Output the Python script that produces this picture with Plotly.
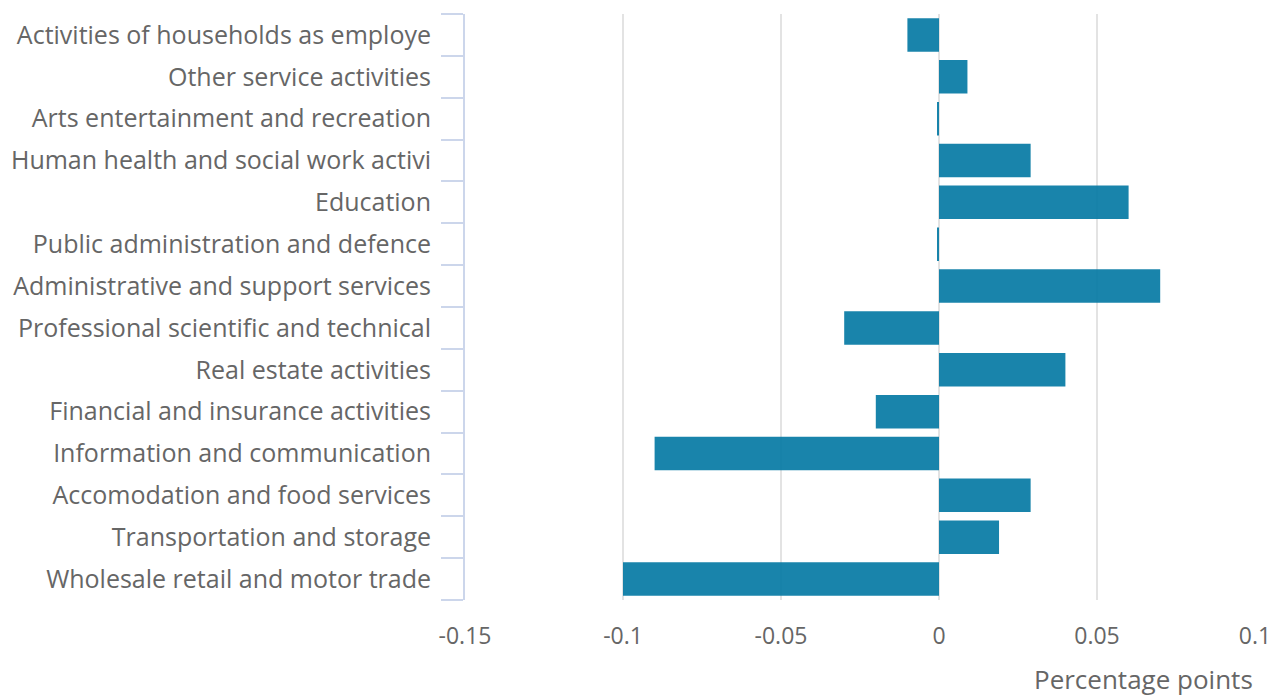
import plotly.graph_objects as go

categories = [
    "Wholesale retail and motor trade",
    "Transportation and storage",
    "Accomodation and food services",
    "Information and communication",
    "Financial and insurance activities",
    "Real estate activities",
    "Professional scientific and technical",
    "Administrative and support services",
    "Public administration and defence",
    "Education",
    "Human health and social work activi",
    "Arts entertainment and recreation",
    "Other service activities",
    "Activities of households as employe",
]
values = [-0.100, 0.019, 0.029, -0.090, -0.020, 0.040, -0.030, 0.070,
          -0.0005, 0.060, 0.029, -0.0005, 0.009, -0.010]
x_ticks = [-0.15, -0.1, -0.05, 0, 0.05, 0.1]
x_ticklabels = ["-0.15", "-0.1", "-0.05", "0", "0.05", "0.1"]

font_family = "Open Sans"
text_color = "#666666"

fig = go.Figure(go.Bar(
    x=values, y=categories, orientation="h",
    marker=dict(color="#0077a2", opacity=0.9, line=dict(width=0)),
))

fig.update_layout(
    width=1279, height=697,
    margin=dict(l=465, r=24, t=14, b=97),
    paper_bgcolor="white", plot_bgcolor="white",
    font=dict(family=font_family, size=24, color=text_color),
    bargap=0.2,
    showlegend=False,
    xaxis=dict(
        range=[-0.15, 0.1], tickvals=x_ticks, ticktext=x_ticklabels,
        showgrid=True, gridcolor="#e3e3e3", gridwidth=2,
        zeroline=True, zerolinecolor="#e3e3e3", zerolinewidth=2,
        showline=False, ticks="", ticklabelstandoff=20, automargin=False,
        tickfont=dict(size=23, color=text_color),
    ),
    yaxis=dict(
        type="category", showgrid=False, zeroline=False,
        showline=True, linecolor="#ccd6eb", linewidth=2,
        ticks="outside", tickson="boundaries", ticklen=22, tickwidth=2,
        tickcolor="#ccd6eb", ticklabelstandoff=27, automargin=False,
        tickfont=dict(size=25, color=text_color),
    ),
    annotations=[dict(
        text="Percentage points", xref="paper", yref="paper",
        x=1, y=-0.135, xanchor="right", yanchor="middle",
        showarrow=False, font=dict(size=26, color=text_color),
    )],
)

fig.write_html("out.html", config={"displayModeBar": False},
               post_script="document.body.style.margin='0';")
